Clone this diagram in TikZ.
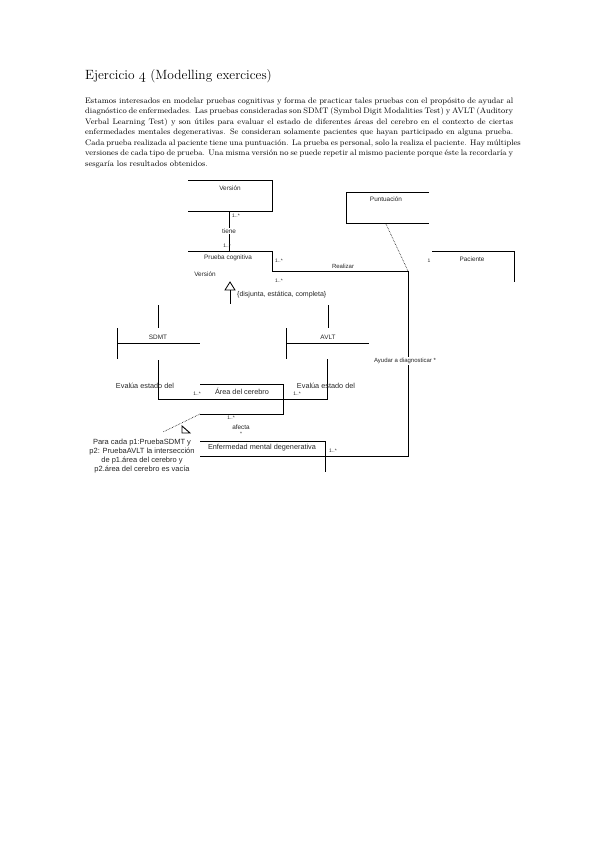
\documentclass[tikz,border=0pt]{standalone}
\usepackage{fontspec}
\newfontfamily\umlfont{Liberation Sans}
\usetikzlibrary{positioning, calc}

\newlength{\parw}
\setlength{\parw}{428pt}
\newcommand{\pline}[1]{\makebox[\parw][s]{#1}}

\begin{document}
\begin{tikzpicture}[
    x=1pt, y=-1pt,
    every node/.style={inner sep=0pt},
    box/.style={draw=black, line width=0.8pt},
    assoc/.style={draw=black, line width=0.8pt},
    dep/.style={draw=black, densely dotted, line width=0.6pt},
    lbl/.style={font=\umlfont\fontsize{6.4}{7.5}\selectfont, text=black!85},
    biglbl/.style={font=\umlfont\fontsize{7.3}{8.8}\selectfont, text=black!85},
    mult/.style={font=\umlfont\fontsize{5}{6}\selectfont, text=black!85},
    onlink/.style={lbl, fill=white, inner sep=1pt}
]
\useasboundingbox (0,0) rectangle (599,848);

% Heading and statement
\node[anchor=base west, font=\fontsize{13.4}{15}\selectfont] (title) at (85,80)
    {Ejercicio {\usefont{OML}{cmm}{m}{it}4} (Modelling exercices)};
\node[anchor=north west, align=left, font=\fontsize{8}{10.45}\selectfont] (statement) at (85,97.5) {%
    \pline{Estamos interesados en modelar pruebas cognitivas y forma de practicar tales pruebas con el propósito de ayudar al}\\
    \pline{diagnóstico de enfermedades. Las pruebas consideradas son SDMT (Symbol Digit Modalities Test) y AVLT (Auditory}\\
    \pline{Verbal Learning Test) y son útiles para evaluar el estado de diferentes áreas del cerebro en el contexto de ciertas}\\
    \pline{enfermedades mentales degenerativas. Se consideran solamente pacientes que hayan participado en alguna prueba.}\\
    \pline{Cada prueba realizada al paciente tiene una puntuación. La prueba es personal, solo la realiza el paciente. Hay múltiples}\\
    \pline{versiones de cada tipo de prueba. Una misma versión no se puede repetir al mismo paciente porque éste la recordaría y}\\
    sesgaría los resultados obtenidos.};

% Class outlines
\coordinate (vers-nw) at (188,180);
\coordinate (vers-ne) at (272,180);
\coordinate (vers-se) at (272,211);
\coordinate (vers-sw) at (188,211);
\draw[box] (vers-nw) -- (vers-ne) -- (vers-se) -- (vers-sw);
\node[lbl] (version) at (230,188) {Versión};

\coordinate (pc-nw) at (188,251);
\coordinate (pc-ne) at (272,251);
\coordinate (pc-e) at (272,271);
\draw[box] (pc-nw) -- (pc-ne) -- (pc-e);
\node[lbl] (prueba) at (228,258) {Prueba cognitiva};
\node[lbl] (attr) at (205,274) {Versión};

\coordinate (pun-ne) at (429,192);
\coordinate (pun-nw) at (346,192);
\coordinate (pun-sw) at (346,223);
\coordinate (pun-se) at (429,223);
\draw[box] (pun-ne) -- (pun-nw) -- (pun-sw) -- (pun-se);
\node[lbl] (puntuacion) at (386,199) {Puntuación};

\coordinate (pac-nw) at (432,251);
\coordinate (pac-ne) at (514,251);
\coordinate (pac-se) at (514,282);
\draw[box] (pac-nw) -- (pac-ne) -- (pac-se);
\node[lbl] (paciente) at (472,259) {Paciente};

\coordinate (sdmt-n) at (158,328);
\draw[box] (117,328) -- (117,359);
\draw[box] (117,343) -- (200,343);
\node[lbl] (sdmt) at (158,337) {SDMT};

\coordinate (avlt-n) at (328,328);
\draw[box] (286,328) -- (286,359);
\draw[box] (286,343) -- (369,343);
\node[lbl] (avlt) at (328,337) {AVLT};

\coordinate (area-nw) at (200,384);
\coordinate (area-ne) at (283,384);
\coordinate (area-se) at (283,414);
\coordinate (area-sw) at (200,414);
\draw[box] (area-nw) -- (area-ne) -- (area-se) -- (area-sw);
\node[biglbl] (area) at (242,391) {Área del cerebro};

\coordinate (enf-nw) at (200,441);
\coordinate (enf-ne) at (325,441);
\coordinate (enf-se) at (325,472);
\coordinate (enf-w) at (200,456);
\draw[box] (enf-nw) -- (enf-ne) -- (enf-se);
\node[biglbl] (enfermedad) at (262,448) {Enfermedad mental degenerativa};

% tiene
\coordinate (tiene-a) at (229,211);
\coordinate (tiene-b) at (229,251);
\draw[assoc] (tiene-a) -- node[onlink] (tiene) {tiene} (tiene-b);
\node[mult, anchor=west] (m1) at (232,216) {1..*};
\node[mult, anchor=east] (m2) at (231,246) {1..*};

% Realizar / Ayudar a diagnosticar
\coordinate (bend-ne) at (408,271);
\coordinate (bend-se) at (408,456);
\draw[assoc] (pc-e) -- (bend-ne) -- (bend-se) -- (enf-w);
\node[lbl, font=\umlfont\fontsize{6}{7}\selectfont] (realizar) at (343,266) {Realizar};
\node[mult, anchor=west] (m3) at (275,261) {1..*};
\node[mult, anchor=west] (m4) at (275,281) {1..*};
\node[mult] (m5) at (429,261) {1};
\node[onlink, font=\umlfont\fontsize{6}{7}\selectfont] (ayudar) at (405,361) {Ayudar a diagnosticar *};
\node[mult, anchor=west] (m6) at (329,451) {1..*};
\draw[dep] (puntuacion |- pun-sw) ++(0,1) -- (bend-ne);

% Generalizacion
\coordinate (gen-tip) at (230,282);
\coordinate (gen-foot) at (230,304);
\draw[line width=0.8pt] (gen-tip) -- ++(-5,8) -- ++(10,0) -- cycle;
\draw[assoc] (230,290) -- (gen-foot);
\node[lbl, font=\umlfont\fontsize{7}{8}\selectfont, anchor=west] (constraint) at (237,295) {\{disjunta, estática, completa\}};
\draw[assoc] (158,305) -- (sdmt-n);
\draw[assoc] (328,305) -- (avlt-n);

% Evalua estado del
\coordinate (ev-l) at (158,360);
\coordinate (ev-r) at (327,359);
\draw[assoc] (ev-l) -- (158,399) -- (327,399) -- (ev-r);
\node[biglbl] (eval1) at (145,386) {Evalúa estado del};
\node[biglbl] (eval2) at (326,386) {Evalúa estado del};
\node[mult] (m7) at (197,394) {1..*};
\node[mult] (m8) at (297,394) {1..*};

% afecta
\node[mult] (m9) at (231,418) {1..*};
\node[lbl] (afecta) at (241,427) {afecta};
\node[mult] (m10) at (241,434) {*};

% Nota
\node[biglbl, align=center, font=\umlfont\fontsize{7.5}{9}\selectfont] (nota) at (142,456)
    {Para cada p1:PruebaSDMT y\\p2: PruebaAVLT la intersección\\de p1.área del cerebro y\\p2.área del cerebro es vacía};
\draw[dep] (area-sw) -- (163,432);
\draw[line width=0.9pt] (182,426) -- (182,433) -- (190,433) -- cycle;

\end{tikzpicture}
\end{document}
